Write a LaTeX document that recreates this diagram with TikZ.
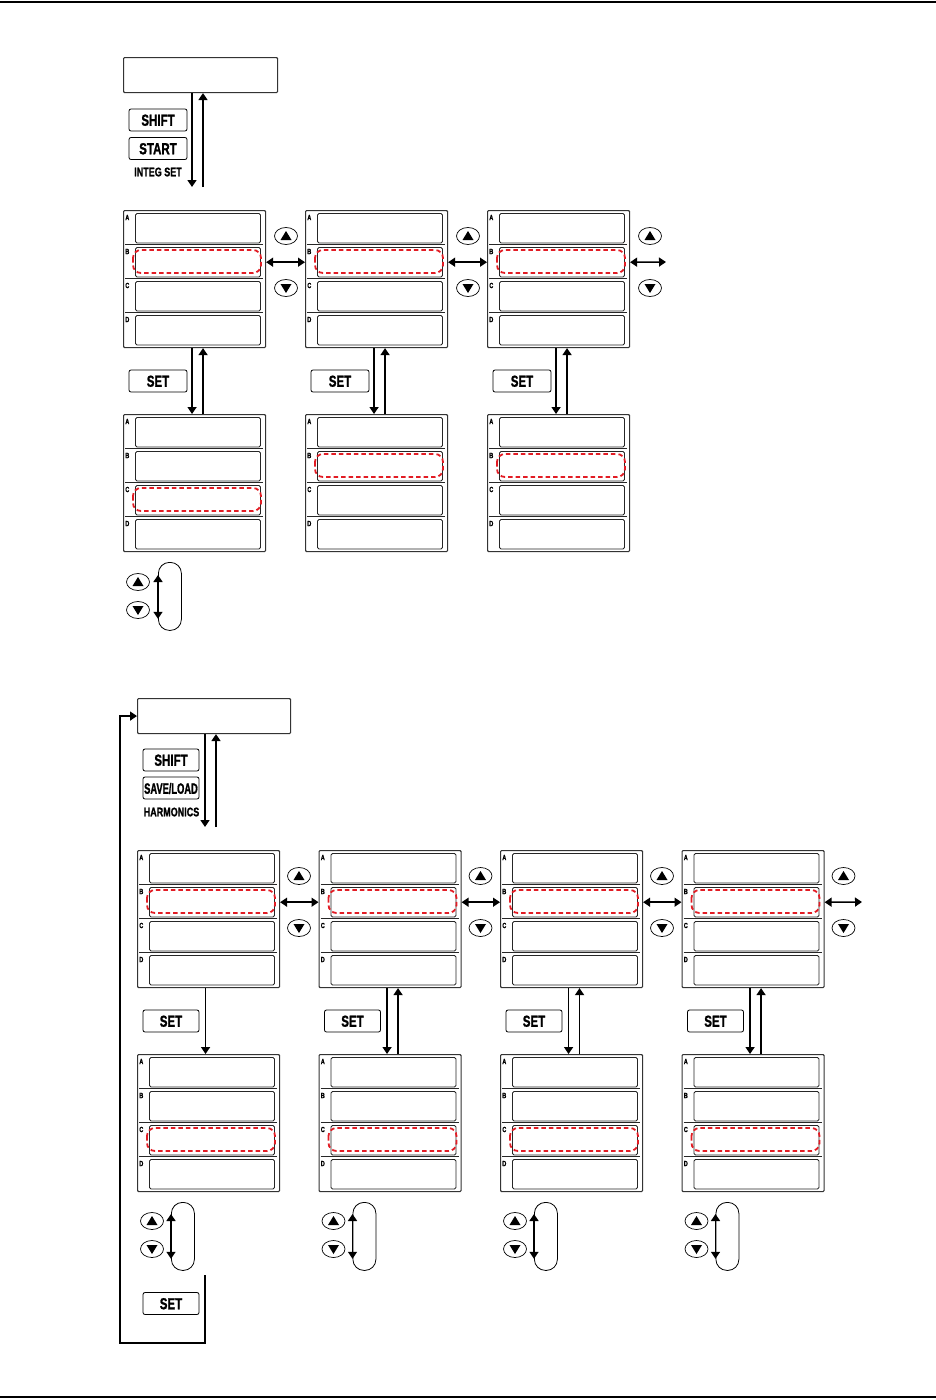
\documentclass[tikz,border=0pt]{standalone}
\usepackage{fontspec}
\newfontfamily\keyfont[FakeStretch=0.72,FakeBold=1.2]{Liberation Sans Bold}
\newfontfamily\narrowkeyfont[FakeStretch=0.62,FakeBold=1.2]{Liberation Sans Bold}
\usepackage{tikz}
\usetikzlibrary{arrows.meta,calc,shapes.geometric}
\definecolor{markred}{RGB}{226,28,36}

% one display panel with four rows A--D; #4 = marked row (0=A ... 3=D)
\newcommand{\dispanel}[4]{%
  \node[panel,anchor=north west] (#1) at (#2,#3) {};
  \foreach \r [count=\i from 0] in {A,B,C,D}{
    \node[rowbox,anchor=north west] (#1-\r) at ($(#2,#3)+(12,3+34*\i)$) {};
    \node[rowlbl] at ($(#2,#3)+(4.3,7.5+34*\i)$) {\r};
  }
  \foreach \i in {1,2,3}
    \draw[rowsep] ($(#2,#3)+(2,34*\i+0.75)$) -- ++(138,0);
  \draw[hilite] ($(#2,#3)+(10,6+34*#4)$) rectangle ++(128,23);
}
\newcommand{\upkey}[2]{%
  \node[arrkey] (#1) at (#2) {};
  \fill ([shift={(-5.5,4)}]#1.center) -- ([shift={(5.5,4)}]#1.center)
    -- ([shift={(0,-5)}]#1.center) -- cycle;}
\newcommand{\dnkey}[2]{%
  \node[arrkey] (#1) at (#2) {};
  \fill ([shift={(-5.5,-4)}]#1.center) -- ([shift={(5.5,-4)}]#1.center)
    -- ([shift={(0,5)}]#1.center) -- cycle;}

\begin{document}
\begin{tikzpicture}[x=1pt,y=-1pt,
  flow/.style={-{Triangle[length=7pt,width=9pt]},line width=1.5pt},
  dflow/.style={{Triangle[length=7pt,width=9pt]}-{Triangle[length=7pt,width=9pt]},
                line width=1.5pt},
  panel/.style={draw=black!80,line width=1.1pt,rounded corners=1pt,
                minimum width=142pt,minimum height=137pt,inner sep=0pt},
  disp/.style={draw=black!80,line width=1.1pt,rounded corners=1pt,
               minimum width=154pt,minimum height=35pt,inner sep=0pt},
  rowbox/.style={draw=black!85,line width=0.9pt,rounded corners=1.5pt,
                 minimum width=125pt,minimum height=29.5pt,inner sep=0pt},
  rowsep/.style={line width=0.9pt,black!85},
  rowlbl/.style={inner sep=0pt,font=\keyfont\fontsize{7.5}{7.5}\selectfont},
  hilite/.style={draw=markred,line width=1.8pt,dash pattern=on 4.5pt off 3pt,
                 rounded corners=8pt},
  key/.style={draw,line width=0.8pt,rounded corners=2pt,minimum width=58pt,
              minimum height=22pt,inner sep=0pt,text height=11.5pt,text depth=0pt,
              font=\keyfont\fontsize{16}{16}\selectfont},
  keylbl/.style={inner sep=0pt,font=\keyfont\fontsize{12.5}{12.5}\selectfont},
  arrkey/.style={ellipse,draw,line width=0.7pt,minimum width=23pt,
                 minimum height=17pt,inner sep=0pt},
  loopbox/.style={draw,line width=0.8pt,rounded corners=11pt,minimum width=23pt,
                  minimum height=68pt,inner sep=0pt}
]
  \useasboundingbox (0,0) rectangle (936,1400);
  \draw[line width=1.5pt] (0,2) -- (936,2);
  \draw[line width=1.5pt] (0,1397) -- (936,1397);

  % integration settings
  \node[disp,anchor=north west] (intDisp) at (123,57) {};
  \node[key] (intShift) at (158,120) {SHIFT};
  \node[key] (intStart) at (158,148.5) {START};
  \node[keylbl] (intLbl) at (158,172) {INTEG SET};
  \coordinate (intDnEnd) at (192,187);
  \coordinate (intUpEnd) at (203,187);
  \draw[flow] (intDisp.south -| intDnEnd) -- (intDnEnd);
  \draw[flow] (intUpEnd) -- (intDisp.south -| intUpEnd);

  \foreach \c/\x/\m in {1/123/2,2/305/1,3/487/1}{
    \dispanel{intTop\c}{\x}{210}{1}
    \dispanel{intSub\c}{\x}{414}{\m}
    \node[key] (intSet\c) at (\x+35,381) {SET};
    \upkey{intKeyU\c}{\x+163,236}
    \dnkey{intKeyD\c}{\x+163,288}
    \draw[flow] ([xshift=-2.5pt]intTop\c.south) -- ([xshift=-2.5pt]intSub\c.north);
    \draw[flow] ([xshift=8.5pt]intSub\c.north) -- ([xshift=8.5pt]intTop\c.south);
  }
  \foreach \a/\b in {1/2,2/3}
    \draw[dflow] (intTop\a.east |- intTop\a-B) -- (intTop\b.west |- intTop\b-B);
  \coordinate (intEnd) at (666,262);
  \draw[dflow] (intTop3.east |- intTop3-B) -- (intEnd);

  \node[loopbox,anchor=north west] (intLoop) at (158,562) {};
  \upkey{intKeyU4}{138,582}
  \dnkey{intKeyD4}{138,610}
  \draw[dflow] ([yshift=-13pt]intLoop.north west) -- ([yshift=12pt]intLoop.south west);

  % harmonics settings
  \node[disp,anchor=north west,minimum width=153pt] (harmDisp) at (137,698) {};
  \node[key,minimum width=56pt] (harmShift) at (171,760) {SHIFT};
  \node[key,minimum width=56pt,
        font=\narrowkeyfont\fontsize{15}{15}\selectfont] (harmSave) at (171,788) {SAVE/LOAD};
  \node[keylbl] (harmLbl) at (171.5,812) {HARMONICS};
  \coordinate (harmDnEnd) at (205,827);
  \coordinate (harmUpEnd) at (216,827);
  \draw[flow] (harmDisp.south -| harmDnEnd) -- (harmDnEnd);
  \draw[flow] (harmUpEnd) -- (harmDisp.south -| harmUpEnd);

  \foreach \c/\x in {1/137,2/318.5,3/500,4/681.5}{
    \dispanel{harmTop\c}{\x}{850}{1}
    \dispanel{harmSub\c}{\x}{1054}{2}
    \node[key,minimum width=56pt] (harmSet\c) at (\x+34,1021) {SET};
    \upkey{harmKeyU\c}{\x+162,876}
    \dnkey{harmKeyD\c}{\x+162,928}
    \draw[flow] ([xshift=-3pt]harmTop\c.south) -- ([xshift=-3pt]harmSub\c.north);
    \node[loopbox,anchor=north west] (harmLoop\c) at (\x+34,1202) {};
    \upkey{harmKeyLU\c}{\x+15,1221}
    \dnkey{harmKeyLD\c}{\x+15,1249}
    \draw[dflow] ([yshift=-12pt]harmLoop\c.north west) -- ([yshift=12pt]harmLoop\c.south west);
  }
  \foreach \c in {2,3,4}
    \draw[flow] ([xshift=8pt]harmSub\c.north) -- ([xshift=8pt]harmTop\c.south);
  \foreach \a/\b in {1/2,2/3,3/4}
    \draw[dflow] (harmTop\a.east |- harmTop\a-B) -- (harmTop\b.west |- harmTop\b-B);
  \coordinate (harmEnd) at (862,902);
  \draw[dflow] (harmTop4.east |- harmTop4-B) -- (harmEnd);

  % back to the first display
  \node[key,minimum width=56pt] (harmSetBack) at (171,1303.5) {SET};
  \coordinate (harmRet) at (205,1275);
  \coordinate (harmLow) at (120,1343);
  \draw[flow] (harmRet) |- (harmLow) |- (harmDisp.west);
\end{tikzpicture}
\end{document}
